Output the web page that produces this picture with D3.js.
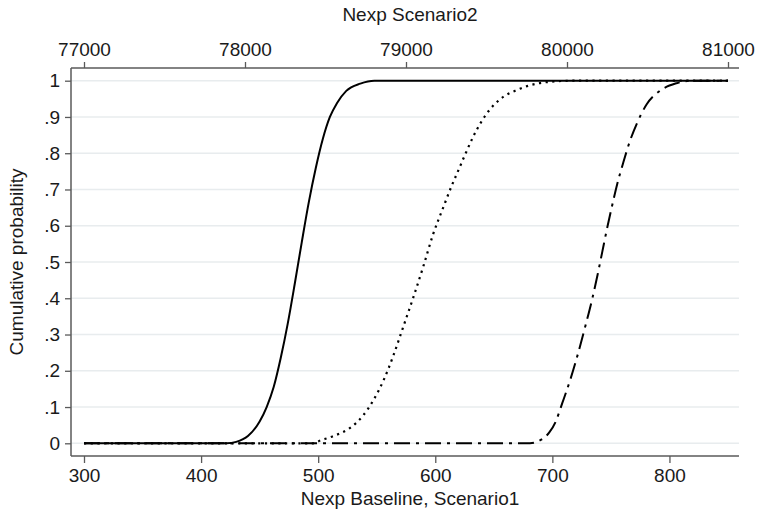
<!DOCTYPE html>
<html lang="en">
<head>
<meta charset="utf-8">
<script src="https://cdn.jsdelivr.net/npm/d3@7"></script>
<style>
  body { margin: 0; background: #fff; }
  text { font-family: "Liberation Sans", Arial, sans-serif; fill: #1a1a1a; }
</style>
</head>
<body>
<script>
// Baseline and Scenario1 are read on the bottom axis, Scenario2 on the top one
const baseX = [300, 422, 430, 440, 450, 456, 462, 468, 474, 480, 486, 492, 498, 504, 510, 516, 524, 536, 548, 850];
const baseP = [0, 0, 0.004, 0.02, 0.06, 0.10, 0.155, 0.235, 0.33, 0.44, 0.555, 0.665, 0.76, 0.84, 0.90, 0.938, 0.972, 0.992, 1, 1];

const scen1X = [300, 495, 502, 513, 527, 538, 547, 556, 564, 572, 581, 590, 598, 607, 614, 620, 626, 632, 639, 646, 655, 670, 687, 702, 716, 850];
const scen1P = [0, 0, 0.008, 0.02, 0.042, 0.075, 0.118, 0.175, 0.24, 0.315, 0.40, 0.49, 0.575, 0.652, 0.71, 0.755, 0.80, 0.843, 0.885, 0.918, 0.948, 0.975, 0.992, 0.998, 1, 1];

const scen2X = [77000, 79770, 79840, 79890, 79930, 79970, 80020, 80070, 80115, 80155, 80190, 80220, 80250, 80280, 80312, 80350, 80392, 80435, 80495, 80580, 80680, 80780, 81000];
const scen2P = [0, 0, 0.01, 0.03, 0.06, 0.11, 0.175, 0.25, 0.325, 0.395, 0.465, 0.53, 0.595, 0.655, 0.715, 0.775, 0.835, 0.883, 0.935, 0.973, 0.993, 1, 1];

const bottomTicks = [300, 400, 500, 600, 700, 800];
const topTicks = [77000, 78000, 79000, 80000, 81000];
const yTicks = [0, .1, .2, .3, .4, .5, .6, .7, .8, .9, 1];
const yTickLabels = ["0", ".1", ".2", ".3", ".4", ".5", ".6", ".7", ".8", ".9", "1"];

var W = 758, H = 515;
// plot region box
var box = {left: 71, right: 739, top: 68, bottom: 456};

var svg = d3.select("body").append("svg")
    .attr("width", W)
    .attr("height", H);

var x1 = d3.scaleLinear().domain([300, 850]).range([84, 728]);
var x2 = d3.scaleLinear().domain([77000, 81000]).range([84, 728]);
var y = d3.scaleLinear().domain([0, 1]).range([443.3, 80.7]);

var axisColor = "#5a5a5a";
var fs = "19px";

// grid lines
svg.append("g").selectAll("line")
    .data(yTicks)
    .enter().append("line")
    .attr("x1", box.left).attr("x2", box.right)
    .attr("y1", d => y(d)).attr("y2", d => y(d))
    .attr("stroke", "#e8ecee")
    .attr("stroke-width", 1.5);

// bottom axis
var gb = svg.append("g")
    .attr("transform", "translate(0," + box.bottom + ")")
    .call(d3.axisBottom(x1).tickValues(bottomTicks).tickSize(7).tickPadding(6).tickSizeOuter(0));
gb.select(".domain").remove();

// top axis
var gt = svg.append("g")
    .attr("transform", "translate(0," + box.top + ")")
    .call(d3.axisTop(x2).tickValues(topTicks).tickFormat(d3.format("d")).tickSize(6).tickPadding(6).tickSizeOuter(0));
gt.select(".domain").remove();

// left axis
var gl = svg.append("g")
    .attr("transform", "translate(" + box.left + ",0)")
    .call(d3.axisLeft(y).tickValues(yTicks).tickFormat((d, i) => yTickLabels[i]).tickSize(6).tickPadding(5).tickSizeOuter(0));
gl.select(".domain").remove();

[gb, gt, gl].forEach(g => {
  g.selectAll("line").attr("stroke", axisColor).attr("stroke-width", 1.3);
  g.selectAll("text").style("font-size", fs).attr("fill", "#1a1a1a")
    .style("font-family", "'Liberation Sans', Arial, sans-serif");
});

// frame lines (left, top, bottom)
svg.append("line").attr("x1", box.left).attr("x2", box.right).attr("y1", box.top).attr("y2", box.top)
    .attr("stroke", axisColor).attr("stroke-width", 1.5);
svg.append("line").attr("x1", box.left).attr("x2", box.right).attr("y1", box.bottom).attr("y2", box.bottom)
    .attr("stroke", axisColor).attr("stroke-width", 1.5);
svg.append("line").attr("x1", box.left).attr("x2", box.left).attr("y1", box.top).attr("y2", box.bottom)
    .attr("stroke", axisColor).attr("stroke-width", 1.5);

// curves
function mk(xs, ps) { return xs.map((v, i) => ({x: v, p: ps[i]})); }

var lineBottom = d3.line().x(d => x1(d.x)).y(d => y(d.p)).curve(d3.curveMonotoneX);
var lineTop = d3.line().x(d => x2(d.x)).y(d => y(d.p)).curve(d3.curveMonotoneX);

svg.append("path")
    .datum(mk(scen2X, scen2P))
    .attr("d", lineTop)
    .attr("fill", "none")
    .attr("stroke", "#000")
    .attr("stroke-width", 2)
    .attr("stroke-dasharray", "16,6,3,6");

svg.append("path")
    .datum(mk(scen1X, scen1P))
    .attr("d", lineBottom)
    .attr("fill", "none")
    .attr("stroke", "#000")
    .attr("stroke-width", 2.2)
    .attr("stroke-dasharray", "2.2,4.5");

svg.append("path")
    .datum(mk(baseX, baseP))
    .attr("d", lineBottom)
    .attr("fill", "none")
    .attr("stroke", "#000")
    .attr("stroke-width", 2);

// axis titles
svg.append("text")
    .attr("x", (box.left + box.right) / 2 + 5)
    .attr("y", 21)
    .attr("text-anchor", "middle")
    .style("font-size", fs)
    .text("Nexp Scenario2");

svg.append("text")
    .attr("x", (box.left + box.right) / 2 + 5)
    .attr("y", 505)
    .attr("text-anchor", "middle")
    .style("font-size", fs)
    .text("Nexp Baseline, Scenario1");

svg.append("text")
    .attr("transform", "translate(23," + y(0.5) + ") rotate(-90)")
    .attr("text-anchor", "middle")
    .style("font-size", fs)
    .text("Cumulative probability");
</script>
</body>
</html>
